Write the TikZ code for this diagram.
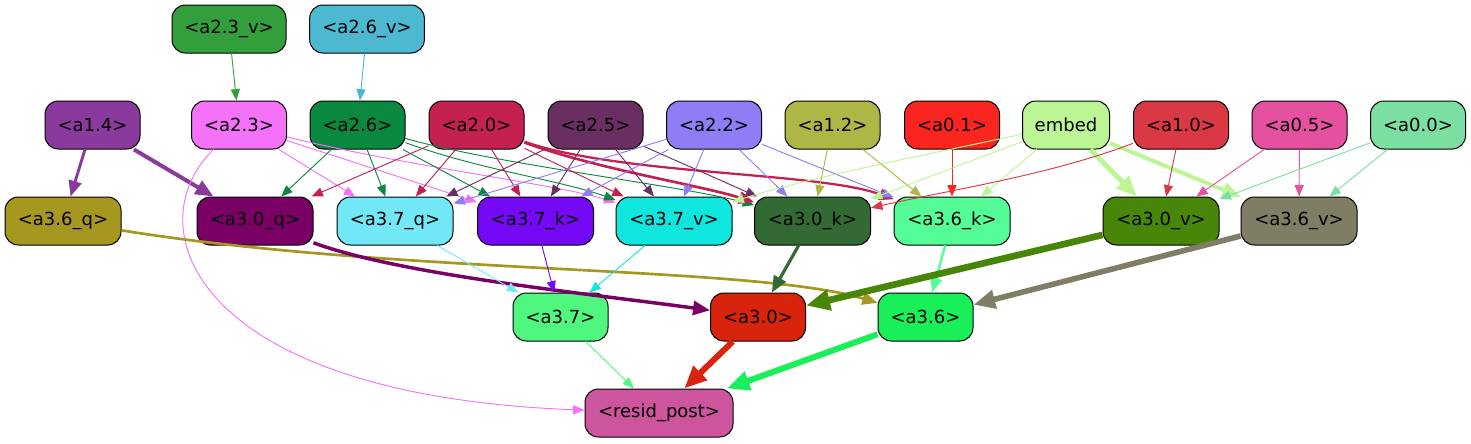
\documentclass[tikz,border=0pt]{standalone}
\usepackage{fontspec}
\setmainfont{DejaVu Sans}
\usepackage{xcolor}
\usepackage{tikz}
\usetikzlibrary{arrows.meta,positioning,calc}

\definecolor{ca23v}{HTML}{339F3C}
\definecolor{ca26v}{HTML}{4CB9D1}
\definecolor{ca14}{HTML}{8A3A9C}
\definecolor{ca23}{HTML}{F472F7}
\definecolor{ca26}{HTML}{0B8840}
\definecolor{ca20}{HTML}{C42050}
\definecolor{ca25}{HTML}{6A2F62}
\definecolor{ca22}{HTML}{8F7DF6}
\definecolor{ca12}{HTML}{AEB645}
\definecolor{ca01}{HTML}{FB2520}
\definecolor{cembed}{HTML}{BBF594}
\definecolor{ca10}{HTML}{DB3846}
\definecolor{ca05}{HTML}{E5519E}
\definecolor{ca00}{HTML}{7BDFA2}
\definecolor{ca36q}{HTML}{A69720}
\definecolor{ca30q}{HTML}{7A0066}
\definecolor{ca37q}{HTML}{72E8F6}
\definecolor{ca37k}{HTML}{7508F5}
\definecolor{ca37v}{HTML}{0EE6DE}
\definecolor{ca30k}{HTML}{336932}
\definecolor{ca36k}{HTML}{54FD96}
\definecolor{ca30v}{HTML}{48860A}
\definecolor{ca36v}{HTML}{7F7E65}
\definecolor{ca37}{HTML}{50F77F}
\definecolor{ca30}{HTML}{D8230D}
\definecolor{ca36}{HTML}{18EF58}
\definecolor{cresid}{HTML}{CC559E}

\tikzset{
  box/.style={draw=black, line width=0.75pt, rounded corners=10pt, minimum height=36pt,
    inner sep=0pt, font=\fontsize{13.5}{16}\selectfont},
  wa/.style={minimum width=71.25pt},
  wq/.style={minimum width=87pt},
  edge/.style={-{Triangle[length=7pt 2.2, width=5.5pt 1.9]}, line width=0.7pt},
}

\begin{document}
\begin{tikzpicture}[x=0.75pt,y=-0.75pt]
\useasboundingbox (0,0) rectangle (1471,443);
% inputs
\node[box, minimum width=85.5pt, fill=ca23v] (a23v) at (229,29) {<a2.3\_v>};
\node[box, minimum width=86pt, fill=ca26v] (a26v) at (367,29) {<a2.6\_v>};
\node[box, wa, fill=ca14] (a14) at (92.5,125) {<a1.4>};
\node[box, wa, fill=ca23] (a23) at (239,125) {<a2.3>};
\node[box, wa, fill=ca26] (a26) at (357.5,125) {<a2.6>};
\node[box, wa, fill=ca20] (a20) at (476.5,125) {<a2.0>};
\node[box, wa, fill=ca25] (a25) at (595.5,125) {<a2.5>};
\node[box, wa, fill=ca22] (a22) at (714,125) {<a2.2>};
\node[box, wa, fill=ca12] (a12) at (832.5,125) {<a1.2>};
\node[box, wa, fill=ca01] (a01) at (952,125) {<a0.1>};
\node[box, minimum width=65.25pt, fill=cembed] (embed) at (1066,125) {embed};
\node[box, wa, fill=ca10] (a10) at (1181,125) {<a1.0>};
\node[box, wa, fill=ca05] (a05) at (1299.5,125) {<a0.5>};
\node[box, wa, fill=ca00] (a00) at (1418,125) {<a0.0>};
% q k v
\node[box, wq, fill=ca36q] (a36q) at (63,221) {<a3.6\_q>};
\node[box, wq, fill=ca30q] (a30q) at (255,221) {<a3.0\_q>};
\node[box, wq, fill=ca37q] (a37q) at (395,221) {<a3.7\_q>};
\node[box, wq, fill=ca37k] (a37k) at (535.5,221) {<a3.7\_k>};
\node[box, wq, fill=ca37v] (a37v) at (674,221) {<a3.7\_v>};
\node[box, wq, fill=ca30k] (a30k) at (812.5,221) {<a3.0\_k>};
\node[box, wq, fill=ca36k] (a36k) at (952,221) {<a3.6\_k>};
\node[box, wq, fill=ca30v] (a30v) at (1161,221) {<a3.0\_v>};
\node[box, wq, fill=ca36v] (a36v) at (1299,221) {<a3.6\_v>};
% heads
\node[box, wa, fill=ca37] (a37) at (560.5,317) {<a3.7>};
\node[box, wa, fill=ca30] (a30) at (758,317) {<a3.0>};
\node[box, wa, fill=ca36] (a36) at (925.5,317) {<a3.6>};
\node[box, minimum width=111pt, fill=cresid] (resid) at (659,413) {<resid\_post>};

% edges
\draw[edge, ca23v] (a23v) -- (a23);
\draw[edge, ca26v] (a26v) -- (a26);
\draw[edge, ca14, line width=2.2pt] (a14) -- (a36q);
\draw[edge, ca14, line width=3pt] (a14) -- (a30q);
\draw[edge, ca23] (a23) .. controls (135,225) and (190,395) .. (resid);
\draw[edge, ca23] (a23) -- (a37q);
\draw[edge, ca23] (a23) -- (a37k);
\draw[edge, ca23] (a23) .. controls (400,165) and (560,185) .. (a37v);
\draw[edge, ca26] (a26) -- (a30q);
\draw[edge, ca26] (a26) -- (a37q);
\draw[edge, ca26] (a26) -- (a37k);
\draw[edge, ca26] (a26) .. controls (480,170) and (560,180) .. (a37v);
\draw[edge, ca26] (a26) .. controls (500,165) and (680,185) .. (a30k);
\draw[edge, ca20] (a20) -- (a30q);
\draw[edge, ca20] (a20) -- (a37q);
\draw[edge, ca20] (a20) -- (a37k);
\draw[edge, ca20] (a20) -- (a37v);
\draw[edge, ca20, line width=2pt] (a20) .. controls (600,170) and (700,185) .. (a30k);
\draw[edge, ca20, line width=1.7pt] (a20) .. controls (620,175) and (820,172) .. (a36k);
\draw[edge, ca25] (a25) -- (a37q);
\draw[edge, ca25] (a25) -- (a37k);
\draw[edge, ca25] (a25) -- (a37v);
\draw[edge, ca25] (a25) -- (a30k);
\draw[edge, ca22] (a22) -- (a37q);
\draw[edge, ca22] (a22) -- (a37k);
\draw[edge, ca22] (a22) -- (a37v);
\draw[edge, ca22] (a22) -- (a30k);
\draw[edge, ca22] (a22) -- (a36k);
\draw[edge, ca12] (a12) -- (a30k);
\draw[edge, ca12] (a12) -- (a36k);
\draw[edge, ca01] (a01) -- (a36k);
\draw[edge, cembed] (embed) .. controls (900,160) and (800,180) .. (a37v);
\draw[edge, cembed] (embed) -- (a30k);
\draw[edge, cembed] (embed) -- (a36k);
\draw[edge, cembed, line width=3.8pt] (embed) -- (a30v);
\draw[edge, cembed, line width=3pt] (embed) -- (a36v);
\draw[edge, ca10] (a10) .. controls (1050,175) and (950,190) .. (a30k);
\draw[edge, ca10] (a10) -- (a30v);
\draw[edge, ca05] (a05) -- (a30v);
\draw[edge, ca05] (a05) -- (a36v);
\draw[edge, ca00] (a00) -- (a30v);
\draw[edge, ca00] (a00) -- (a36v);
\draw[edge, ca36q, line width=2pt] (a36q) .. controls (400,275) and (750,265) .. (a36);
\draw[edge, ca30q, line width=2.6pt] (a30q) .. controls (400,275) and (600,295) .. (a30);
\draw[edge, ca37q] (a37q) -- (a37);
\draw[edge, ca37k] (a37k) -- (a37);
\draw[edge, ca37v] (a37v) -- (a37);
\draw[edge, ca30k, line width=2.4pt] (a30k) -- (a30);
\draw[edge, ca36k, line width=1.8pt] (a36k) -- (a36);
\draw[edge, ca30v, line width=5pt] (a30v) -- (a30);
\draw[edge, ca36v, line width=4.2pt] (a36v) -- (a36);
\draw[edge, ca37] (a37) -- (resid);
\draw[edge, ca30, line width=4.5pt] (a30) -- (resid);
\draw[edge, ca36, line width=4.5pt] (a36) -- (resid);
\end{tikzpicture}
\end{document}
